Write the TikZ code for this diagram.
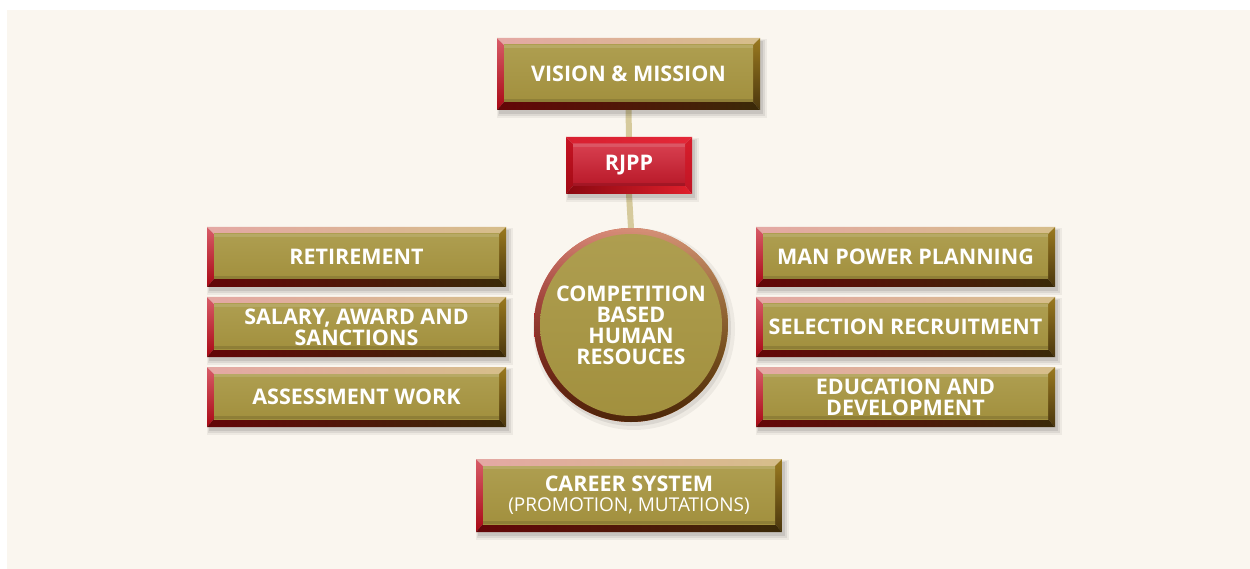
\documentclass[tikz,border=0pt]{standalone}
\usepackage{fontspec}
\setmainfont{Open Sans}
\usetikzlibrary{calc,fadings}
\pgfdeclarelayer{bg}
\pgfsetlayers{bg,main}
\definecolor{bgc}{HTML}{FAF6EF}
\definecolor{linec}{HTML}{D6CA9C}
% gold palette
\definecolor{gLT}{HTML}{D85C68}\definecolor{gLB}{HTML}{A80814}
\definecolor{gTL}{HTML}{E4A8A4}\definecolor{gTR}{HTML}{D6BE8A}
\definecolor{gRT}{HTML}{9A7A20}\definecolor{gRB}{HTML}{4A360E}
\definecolor{gBL}{HTML}{640608}\definecolor{gBR}{HTML}{3A2A08}
\definecolor{gFT}{HTML}{AE9E50}\definecolor{gFB}{HTML}{A2903E}
% red palette
\definecolor{rLT}{HTML}{C81424}\definecolor{rLB}{HTML}{A00A14}
\definecolor{rTL}{HTML}{D82030}\definecolor{rTR}{HTML}{E42838}
\definecolor{rRT}{HTML}{D81E2C}\definecolor{rRB}{HTML}{C01424}
\definecolor{rBL}{HTML}{8A0810}\definecolor{rBR}{HTML}{E0202C}
\definecolor{rFT}{HTML}{D84050}\definecolor{rFB}{HTML}{B81828}
% circle ring
\definecolor{cL}{HTML}{C8101E}\definecolor{cR}{HTML}{B07A1A}
\definecolor{cT}{HTML}{E0A898}\definecolor{cB}{HTML}{3A2208}
\tikzfading[name=fadetop, top color=transparent!0, bottom color=transparent!100]
\tikzfading[name=fadebot, top color=transparent!100, bottom color=transparent!0]
\newcommand\bevbox[2]{%
 \begin{pgfonlayer}{bg}
  \fill[black,opacity=0.05] ($(#1.north west)+(0,1)$) rectangle ($(#1.south east)+(7,8)$);
  \fill[black,opacity=0.07] ($(#1.north west)+(1,2)$) rectangle ($(#1.south east)+(5,6)$);
  \fill[black,opacity=0.09] ($(#1.north west)+(2,3)$) rectangle ($(#1.south east)+(3,4)$);
  \shade[top color=#2LT,bottom color=#2LB] (#1.north west) -- (#1.south west) -- ($(#1.south west)+(7,-8)$) -- ($(#1.north west)+(7,7)$) -- cycle;
  \shade[left color=#2TL,right color=#2TR] (#1.north west) -- (#1.north east) -- ($(#1.north east)+(-7,7)$) -- ($(#1.north west)+(7,7)$) -- cycle;
  \shade[top color=#2RT,bottom color=#2RB] (#1.north east) -- (#1.south east) -- ($(#1.south east)+(-7,-8)$) -- ($(#1.north east)+(-7,7)$) -- cycle;
  \shade[left color=#2BL,right color=#2BR] (#1.south west) -- (#1.south east) -- ($(#1.south east)+(-7,-8)$) -- ($(#1.south west)+(7,-8)$) -- cycle;
  \shade[top color=#2FT,bottom color=#2FB] ($(#1.north west)+(7,7)$) rectangle ($(#1.south east)+(-7,-8)$);
  \fill[white,opacity=0.12] ($(#1.north west)+(7,7)$) rectangle ($(#1.north east)+(-7,10)$);
  \fill[black,opacity=0.12] ($(#1.south west)+(7,-8)$) rectangle ($(#1.south east)+(-7,-11)$);
 \end{pgfonlayer}}
\tikzset{
 boxtext/.style={text=white, font=\fontsize{21.5}{21}\selectfont\bfseries, align=center, inner sep=0pt, outer sep=0pt},
 sidebox/.style={boxtext, rectangle, minimum width=299pt, minimum height=60pt},
 conn/.style={draw=linec, line width=6pt}
}
\begin{document}
\begin{tikzpicture}[x=1pt,y=-1pt]
\useasboundingbox (0,0) rectangle (1250,569);
\begin{pgfonlayer}{bg}
\fill[white] (0,0) rectangle (1250,569);
\fill[bgc] (7,10) rectangle (1250,569);
\end{pgfonlayer}

\node[boxtext, minimum width=263pt, minimum height=72pt] (vm) at (628.5,74) {VISION \& MISSION};
\node[boxtext, minimum width=126pt, minimum height=57pt] (rjpp) at (629,165.5) {RJPP};
\node[boxtext, circle, minimum size=194pt] (hr) at (631,325) {COMPETITION\\BASED\\HUMAN\\RESOUCES};

\node[sidebox] (ret) at (356.5,257) {RETIREMENT};
\node[sidebox] (sal) at (356.5,327) {SALARY, AWARD AND\\SANCTIONS};
\node[sidebox] (ass) at (356.5,397) {ASSESSMENT WORK};
\node[sidebox] (mpp) at (905.5,257) {MAN POWER PLANNING};
\node[sidebox] (sel) at (905.5,327) {SELECTION RECRUITMENT};
\node[sidebox] (edu) at (905.5,397) {EDUCATION AND\\DEVELOPMENT};
\node[boxtext, minimum width=306pt, minimum height=73pt, font=\fontsize{21.5}{20}\selectfont] (car) at (629,495.5) {\textbf{CAREER SYSTEM}\\{\fontsize{19}{19}\selectfont(PROMOTION, MUTATIONS)}};

\begin{pgfonlayer}{bg}
\draw[conn] (vm.south) -- (rjpp.north);
\draw[conn] (rjpp.south) -- (hr.north);
\fill[black,opacity=0.05] ($(hr.center)+(3,4)$) circle (101);
\fill[black,opacity=0.08] ($(hr.center)+(2,3)$) circle (98);
\shade[left color=cL, right color=cR] (hr.center) circle (97);
\fill[cT, opacity=0.75, path fading=fadetop] (hr.center) circle (97);
\fill[cB, opacity=0.85, path fading=fadebot] (hr.center) circle (97);
\shade[top color=gFT, bottom color=gFB] (hr.center) circle (91);
\end{pgfonlayer}

\bevbox{vm}{g}
\bevbox{rjpp}{r}
\bevbox{ret}{g}
\bevbox{sal}{g}
\bevbox{ass}{g}
\bevbox{mpp}{g}
\bevbox{sel}{g}
\bevbox{edu}{g}
\bevbox{car}{g}
\end{tikzpicture}
\end{document}
